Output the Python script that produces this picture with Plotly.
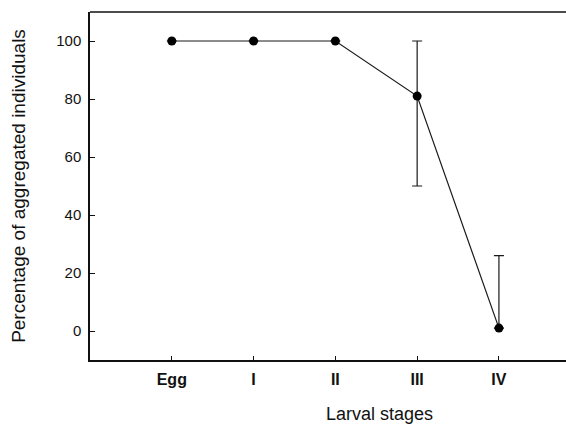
import plotly.graph_objects as go

stages = ["Egg", "I", "II", "III", "IV"]
percent = [100, 100, 100, 81, 1]
err_plus = [None, None, None, 19, 25]
err_minus = [None, None, None, 31, None]
y_ticks = [0, 20, 40, 60, 80, 100]

fig = go.Figure()
fig.add_trace(go.Scatter(
    x=stages, y=percent, mode="lines+markers",
    line=dict(color="#1a1a1a", width=1.2),
    marker=dict(color="black", size=9),
    error_y=dict(type="data", symmetric=False, array=err_plus, arrayminus=err_minus,
                 color="#1a1a1a", thickness=1.2, width=5),
    showlegend=False,
))

fig.update_layout(
    width=566, height=424,
    margin=dict(l=90, r=0, t=12, b=64),
    paper_bgcolor="white", plot_bgcolor="white",
    font=dict(family="Liberation Sans, Arial, sans-serif", color="#111"),
    xaxis=dict(
        type="category", range=[-1, 4.82],
        showline=True, linecolor="#111", linewidth=1.5, mirror=False,
        ticks="inside", ticklen=4, tickcolor="#111",
        showgrid=False, zeroline=False, ticklabelstandoff=4,
        tickfont=dict(size=16, family="Liberation Sans Narrow, Liberation Sans, Arial, sans-serif", weight="bold"),
    ),
    yaxis=dict(
        range=[-10, 110], tickvals=y_ticks,
        showline=True, linecolor="#111", linewidth=1.5, mirror=False,
        ticks="inside", ticklen=5, tickcolor="#111",
        showgrid=False, zeroline=False, ticklabelstandoff=4,
        tickfont=dict(size=15),
        title=dict(text="Percentage of aggregated individuals", font=dict(size=19), standoff=26),
    ),
    shapes=[dict(type="line", xref="paper", yref="paper", x0=0, x1=1, y0=1, y1=1,
                 line=dict(color="#111", width=1.5))],
    annotations=[dict(
        text="Larval stages", xref="paper", yref="paper",
        x=0.609, y=-0.155, xanchor="center", yanchor="middle",
        showarrow=False, font=dict(size=18),
    )],
)

fig.write_html("out.html")
